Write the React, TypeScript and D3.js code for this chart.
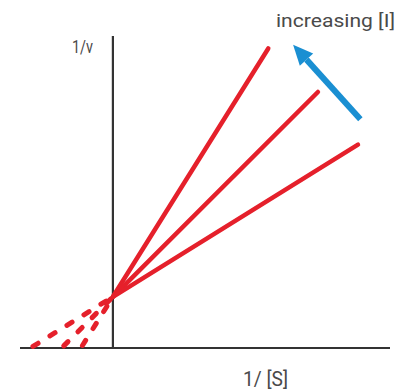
import React from "react";
import { scaleLinear, line } from "d3";

// Lineweaver-Burk plot, competitive inhibition
const inverseVmax = 0.64; // shared y-intercept (1/Vmax)
const xIntercepts = [-0.4, -0.64, -1.03]; // -1/Km(app) for each [I]
const lineEndX = [1.94, 2.56, 3.06]; // 1/[S] where each solid line stops
const arrowFrom = [3.09, 2.86];
const arrowTo = [2.25, 3.79];

const W = 398;
const H = 391;
const RED = "#e5202b";
const AXIS = "#333333";
const FONT = "'Liberation Sans Narrow', 'Roboto', sans-serif";

export default function App() {
  const x = scaleLinear().domain([-1.16, 3.46]).range([20, 390]);
  const y = scaleLinear().domain([0, 3.9]).range([348, 36]);
  const path = line<[number, number]>()
    .x(d => x(d[0]))
    .y(d => y(d[1]));

  const ax = arrowFrom.map((v, i) => (i ? y(v) : x(v)));
  const at = arrowTo.map((v, i) => (i ? y(v) : x(v)));
  const ang = Math.atan2(at[1] - ax[1], at[0] - ax[0]);
  const headLen = 20;
  const headW = 9;
  const bx = at[0] - headLen * Math.cos(ang);
  const by = at[1] - headLen * Math.sin(ang);
  const px = -Math.sin(ang);
  const py = Math.cos(ang);

  return (
    <svg
      width={W}
      height={H}
      style={{ position: "absolute", left: 0, top: 0, background: "#fff" }}
    >
      {/* axes */}
      <line x1={x(-1.16)} x2={x(3.46)} y1={y(0)} y2={y(0)} stroke={AXIS} strokeWidth={2.2} />
      <line x1={x(0)} x2={x(0)} y1={y(0)} y2={y(3.9)} stroke={AXIS} strokeWidth={2.2} />

      {xIntercepts.map((xi, i) => {
        const slope = -inverseVmax / xi;
        return (
          <g key={i}>
            <path
              d={path([[xi, 0], [0, inverseVmax]]) || ""}
              stroke={RED}
              strokeWidth={5}
              strokeDasharray="6 14"
              strokeLinecap="round"
              fill="none"
              strokeDashoffset={-3}
            />
            <path
              d={path([[0, inverseVmax], [lineEndX[i], inverseVmax + slope * lineEndX[i]]]) || ""}
              stroke={RED}
              strokeWidth={4.5}
              strokeLinecap="round"
              fill="none"
            />
          </g>
        );
      })}

      {/* arrow */}
      <line x1={ax[0]} y1={ax[1]} x2={bx} y2={by} stroke="#1a8fd2" strokeWidth={6} />
      <polygon
        points={`${at[0]},${at[1]} ${bx + px * headW},${by + py * headW} ${bx - px * headW},${by - py * headW}`}
        fill="#1a8fd2"
      />

      <text x={72} y={53} fontFamily={FONT} fontSize={19} fill="#4a4a4a" textLength={21} lengthAdjust="spacingAndGlyphs">
        1/v
      </text>
      <text x={276} y={27} fontFamily={FONT} fontSize={18} fill="#4a4a4a" textLength={119} lengthAdjust="spacingAndGlyphs">
        increasing [I]
      </text>
      <text x={243} y={386} fontFamily={FONT} fontSize={20} fill="#4a4a4a" textLength={45} lengthAdjust="spacingAndGlyphs">
        1/ [S]
      </text>
    </svg>
  );
}
